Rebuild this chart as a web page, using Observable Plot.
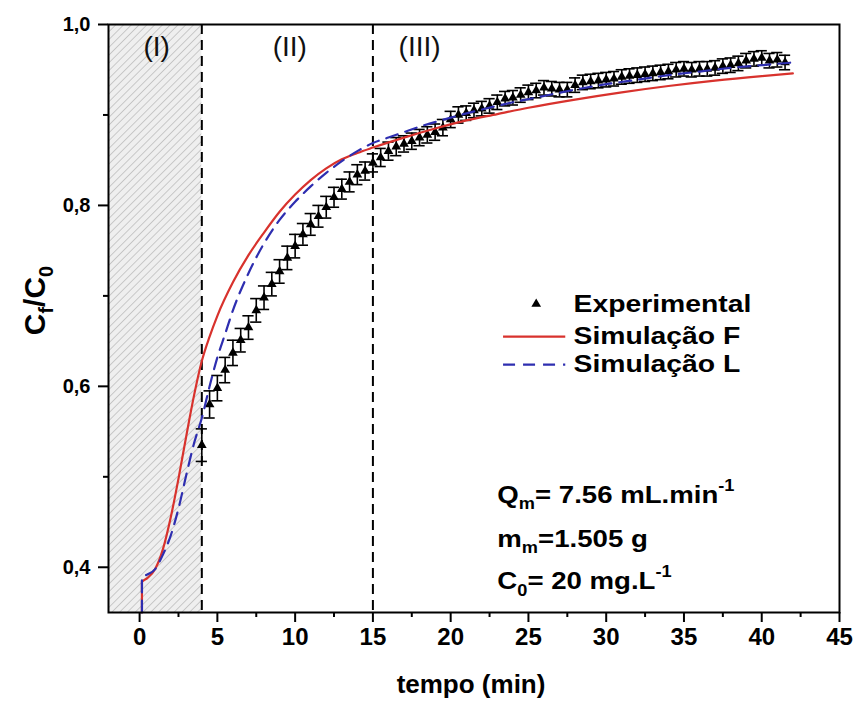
<!DOCTYPE html>
<html><head><meta charset="utf-8">
<script src="https://cdn.jsdelivr.net/npm/d3@7"></script>
<script src="https://cdn.jsdelivr.net/npm/@observablehq/plot@0.6"></script>
<style>body{margin:0;background:#fff}#chart{width:853px;height:706px}</style>
</head><body><div id="chart"></div>
<script>
// ---- data ----
const expTime = [4,4.5,5,5.5,6,6.5,7,7.5,8,8.5,9,9.5,10,10.5,11,11.5,12,12.5,13,13.5,14,14.5,15,15.5,16,16.5,17,17.5,18,18.5,19,19.5,20,20.5,21,21.5,22,22.5,23,23.5,24,24.5,25,25.5,26,26.5,27,27.5,28,28.5,29,29.5,30,30.5,31,31.5,32,32.5,33,33.5,34,34.5,35,35.5,36,36.5,37,37.5,38,38.5,39,39.5,40,40.5,41,41.5];
const expCf = [0.535,0.580,0.598,0.618,0.637,0.651,0.665,0.684,0.698,0.713,0.727,0.742,0.755,0.768,0.779,0.788,0.798,0.809,0.818,0.826,0.834,0.838,0.847,0.853,0.860,0.865,0.868,0.871,0.875,0.878,0.881,0.886,0.895,0.900,0.902,0.905,0.907,0.910,0.914,0.918,0.919,0.922,0.925,0.927,0.930,0.929,0.928,0.928,0.933,0.936,0.937,0.938,0.939,0.940,0.942,0.943,0.944,0.945,0.946,0.947,0.948,0.950,0.951,0.950,0.951,0.951,0.952,0.954,0.955,0.957,0.960,0.962,0.963,0.960,0.961,0.958];
const expErr = [0.018,0.015,0.014,0.014,0.014,0.013,0.013,0.013,0.013,0.013,0.013,0.013,0.013,0.012,0.012,0.012,0.012,0.011,0.011,0.011,0.011,0.010,0.010,0.010,0.010,0.010,0.009,0.009,0.009,0.009,0.009,0.009,0.009,0.009,0.008,0.008,0.008,0.008,0.008,0.008,0.008,0.008,0.008,0.008,0.008,0.008,0.008,0.008,0.008,0.008,0.008,0.008,0.008,0.008,0.008,0.008,0.008,0.008,0.008,0.008,0.008,0.008,0.008,0.008,0.008,0.008,0.008,0.008,0.008,0.008,0.008,0.008,0.008,0.008,0.008,0.008];

const simFTime = [0.15,0.15,0.5,1.0,1.5,2.0,2.5,3.0,3.5,4.0,4.5,5,6,7,8,9,10,11,12,13,14,15,17,19,21,23,25,28,31,34,37,40,42];
const simFCf   = [0.35,0.384,0.388,0.398,0.420,0.455,0.498,0.545,0.590,0.628,0.655,0.678,0.715,0.745,0.770,0.793,0.812,0.828,0.841,0.851,0.858,0.864,0.875,0.885,0.894,0.901,0.908,0.917,0.925,0.932,0.938,0.943,0.946];

const simLTime = [0.15,0.15,0.5,1.0,1.5,2.0,2.5,3.0,3.5,4.0,4.5,5,5.5,6,7,8,9,10,11,12,13,14,15,16,17,18,20,22,24,26,28,30,32,34,36,38,40,42];
const simLCf   = [0.35,0.389,0.392,0.398,0.414,0.435,0.465,0.502,0.537,0.565,0.600,0.632,0.658,0.684,0.725,0.758,0.784,0.804,0.821,0.836,0.849,0.860,0.869,0.875,0.881,0.887,0.897,0.906,0.914,0.921,0.928,0.934,0.939,0.944,0.948,0.952,0.955,0.958];

const xTicks = [0,5,10,15,20,25,30,35,40,45];
const xMinor = [2.5,7.5,12.5,17.5,22.5,27.5,32.5,37.5,42.5];
const yTicks = [0.4,0.6,0.8,1.0];
const yMinor = [0.5,0.7,0.9];

const phaseBounds = [4, 15];
const phaseNames = ["(I)", "(II)", "(III)"];
const phaseLabelX = [1.1, 9.66, 18.0];

const legendLabels = ["Experimental", "Simulação F", "Simulação L"];
const notes = ["Q_{m}= 7.56 mL.min^{-1}", "m_{m}=1.505 g", "C_{0}= 20 mg.L^{-1}"];

// ---- build ----
const RED = "#d8322d", BLUE = "#2e2eb0";
const exp = expTime.map((t, i) => ({t, c: expCf[i], e: expErr[i]}));
const simF = simFTime.map((t, i) => ({t, c: simFCf[i]}));
const simL = simLTime.map((t, i) => ({t, c: simLCf[i]}));
const xDom = [-2, 45], yDom = [0.35, 1.0];
const phases = phaseNames.map((p, i) => ({label: p, x: phaseLabelX[i]}));

const legX0 = 23.4, legX1 = 27.4, legTextX = 27.9, legY = [0.691, 0.655, 0.624];
const noteX = 23.0, noteY = [0.480, 0.431, 0.384];

const bold = {fontWeight: "bold"};
const plot = Plot.plot({
  width: 853, height: 706,
  marginLeft: 108, marginRight: 14, marginTop: 24, marginBottom: 94,
  style: {fontFamily: "'Liberation Sans', Arial, sans-serif", background: "white", color: "black", overflow: "visible"},
  x: {domain: xDom},
  y: {domain: yDom},
  marks: [
    Plot.rect([0], {x1: xDom[0], x2: phaseBounds[0], y1: yDom[0], y2: yDom[1], fill: "url(#hatch)"}),
    Plot.ruleX(phaseBounds, {stroke: "black", strokeWidth: 2, strokeDasharray: "10,6"}),
    Plot.text(phases, {x: "x", y: 0.975, text: "label", fontSize: 28, fill: "#111"}),
    // experimental with error bars
    Plot.ruleX(exp, {x: "t", y1: d => d.c - d.e, y2: d => d.c + d.e, stroke: "black", strokeWidth: 1.6}),
    Plot.ruleY(exp, {y: d => d.c + d.e, x1: d => d.t - 0.36, x2: d => d.t + 0.36, stroke: "black", strokeWidth: 1.6}),
    Plot.ruleY(exp, {y: d => d.c - d.e, x1: d => d.t - 0.36, x2: d => d.t + 0.36, stroke: "black", strokeWidth: 1.6}),
    Plot.dot(exp, {x: "t", y: "c", symbol: "triangle", fill: "black", stroke: null, r: 3.6}),
    // simulations
    Plot.line(simF, {x: "t", y: "c", stroke: RED, strokeWidth: 2.2, curve: "monotone-x"}),
    Plot.line(simL, {x: "t", y: "c", stroke: BLUE, strokeWidth: 2.2, strokeDasharray: "12,8", curve: "monotone-x"}),
    // legend
    Plot.dot([0], {x: (legX0 + legX1) / 2 + 0.1, y: legY[0], symbol: "triangle", fill: "black", r: 3.6}),
    Plot.ruleY([legY[1]], {x1: legX0, x2: legX1, stroke: RED, strokeWidth: 2.2}),
    Plot.ruleY([legY[2]], {x1: legX0, x2: legX1, stroke: BLUE, strokeWidth: 2.2, strokeDasharray: "12,8"}),
    Plot.text(legendLabels, {x: legTextX, y: (d, i) => legY[i], text: d => d, textAnchor: "start", fontSize: 24, ...bold}),
    // notes
    Plot.text(notes, {x: noteX, y: (d, i) => noteY[i], text: d => d, textAnchor: "start", fontSize: 24, ...bold}),
    // axes
    Plot.axisX({ticks: xTicks, tickSize: 10, tickPadding: 5, fontSize: 24, ...bold, strokeWidth: 2, label: null}),
    Plot.axisX({ticks: xMinor, tickSize: 5, tickFormat: () => "", strokeWidth: 2, label: null}),
    Plot.axisY({ticks: yTicks, tickSize: 10, tickPadding: 8, fontSize: 20, ...bold, strokeWidth: 2, label: null,
      tickFormat: d => d.toFixed(1).replace(".", ",")}),
    Plot.axisY({ticks: yMinor, tickSize: 5, tickFormat: () => "", strokeWidth: 2, label: null}),
    Plot.text(["C_{f}/C_{0}"], {frameAnchor: "left", textAnchor: "middle", dx: -73, dy: -18, rotate: -90, fontSize: 30, ...bold}),
    Plot.text(["tempo (min)"], {frameAnchor: "bottom", textAnchor: "middle", dx: -3, dy: 80, fontSize: 26, ...bold}),
    Plot.frame({stroke: "black", strokeWidth: 2})
  ]
});

// hatch pattern
d3.select(plot).insert("defs", ":first-child").html(
  `<pattern id="hatch" patternUnits="userSpaceOnUse" width="5.5" height="5.5" patternTransform="rotate(45)">
     <rect width="5.5" height="5.5" fill="#efefef"></rect>
     <line x1="0" y1="0" x2="0" y2="5.5" stroke="#a9a9a9" stroke-width="1.1"></line>
   </pattern>`);

// horizontal stretch of the wide bold labels (legend and notes), as in the reference
const stretchFor = new Map([...legendLabels.map(s => [s, 1.18]), ...notes.map(s => [s, 1.15])]);
d3.select(plot).selectAll("text").each(function() {
  const s = stretchFor.get(this.textContent);
  if (!s) return;
  const t = d3.select(this);
  const x = +(t.attr("x") || 0);
  t.attr("x", x / s);
  t.attr("transform", (t.attr("transform") || "") + ` scale(${s},1)`);
});

// rich text: _{..} subscripts, ^{..} superscripts
d3.select(plot).selectAll("text").each(function() {
  const s = this.textContent;
  if (!/[_^]\{/.test(s)) return;
  const parts = s.split(/([_^]\{[^}]*\})/);
  this.textContent = "";
  const sel = d3.select(this);
  for (const p of parts) {
    if (!p) continue;
    const m = p.match(/^([_^])\{(.*)\}$/);
    if (m) sel.append("tspan").attr("font-size", "66%").attr("baseline-shift", m[1] === "_" ? "-0.4em" : "0.75em").text(m[2]);
    else sel.append("tspan").text(p);
  }
});

document.getElementById("chart").append(plot);
</script>
</body></html>
